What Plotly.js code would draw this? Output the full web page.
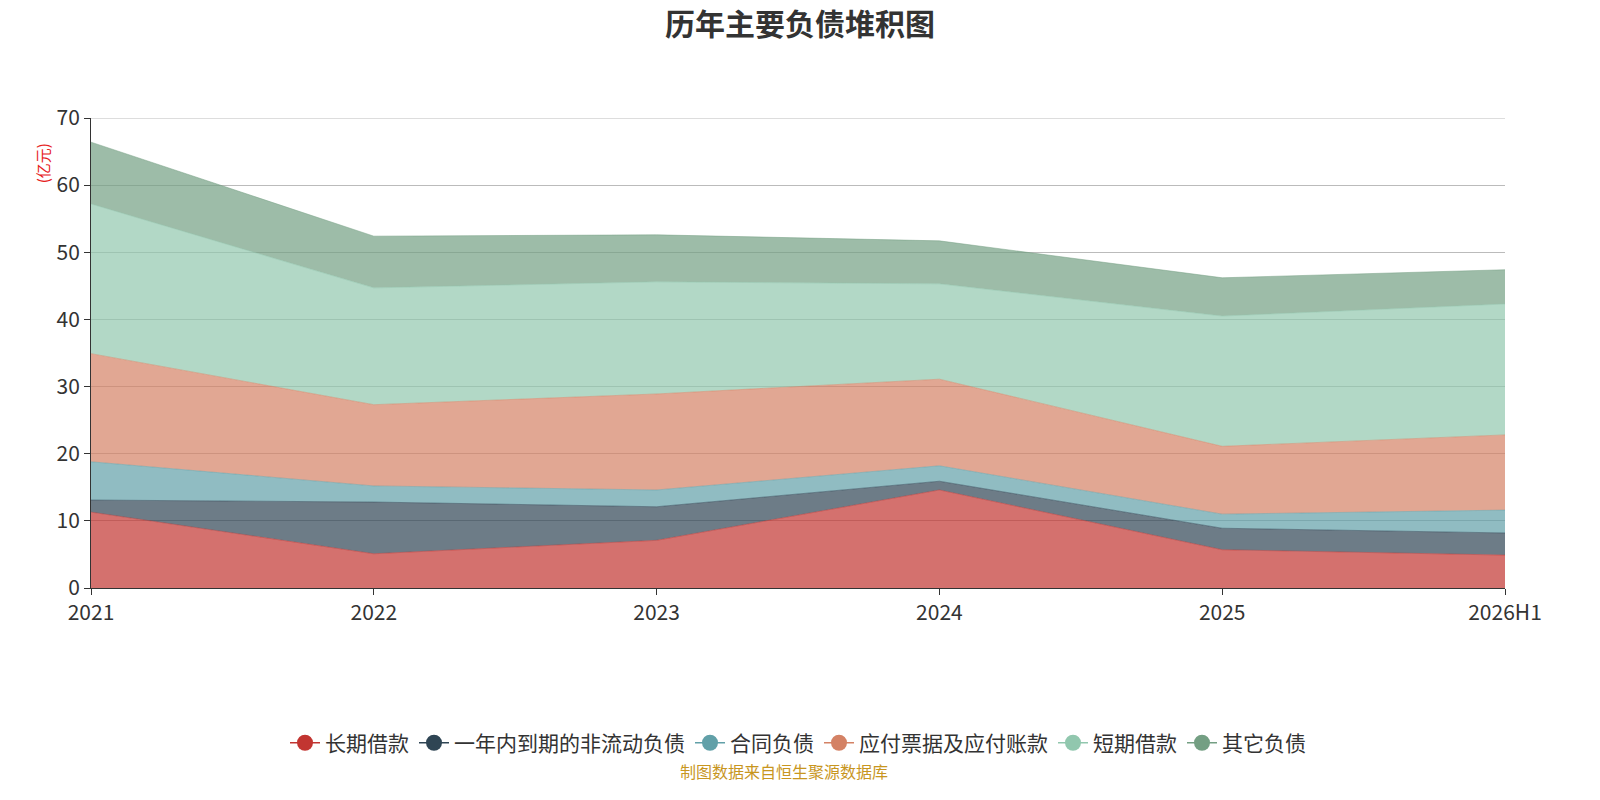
<!DOCTYPE html>
<html><head><meta charset="utf-8">
<script src="https://cdn.plot.ly/plotly-3.0.1.min.js"></script>
<style>body{margin:0}#chart{width:1600px;height:800px}</style>
</head><body><div id="chart"></div>
<script>
const years = ["2021", "2022", "2023", "2024", "2025", "2026H1"];
const longLoan = [11.3, 5.1, 7.1, 14.6, 5.7, 4.9];
const currentNonCurrent = [1.8, 7.7, 5.0, 1.3, 3.2, 3.3];
const contractLiab = [5.7, 2.4, 2.5, 2.3, 2.1, 3.4];
const payables = [16.1, 12.1, 14.3, 12.9, 10.1, 11.2];
const shortLoan = [22.3, 17.4, 16.7, 14.2, 19.4, 19.5];
const otherLiab = [9.2, 7.7, 7.0, 6.4, 5.7, 5.1];

const names = ["长期借款", "一年内到期的非流动负债", "合同负债", "应付票据及应付账款", "短期借款", "其它负债"];
const series = [longLoan, currentNonCurrent, contractLiab, payables, shortLoan, otherLiab];
const colors = ["#c23531", "#2f4554", "#61a0a8", "#d48265", "#91c7ae", "#749f83"];
const xs = years.map((y, i) => i);

function hexA(h, a) {
  const n = parseInt(h.slice(1), 16);
  return `rgba(${n >> 16},${(n >> 8) & 255},${n & 255},${a})`;
}

const data = [];
series.forEach((vals, i) => {
  data.push({
    x: xs, y: vals, type: "scatter", mode: "lines", stackgroup: "one",
    name: names[i], showlegend: false, hoverinfo: "y+name",
    line: { width: 0.5, color: colors[i] }, fillcolor: hexA(colors[i], 0.7)
  });
});
// legend entries
names.forEach((n, i) => {
  data.push({
    x: [null], y: [null], type: "scatter", mode: "lines+markers", name: n,
    line: { color: colors[i], width: 1.5 }, marker: { color: colors[i], size: 22 }
  });
});

Plotly.newPlot("chart", data, {
  width: 1600, height: 800,
  margin: { l: 91, r: 95, t: 118, b: 212 },
  paper_bgcolor: "#fff", plot_bgcolor: "#fff",
  font: { family: "Noto Sans CJK SC, sans-serif", color: "#333" },
  title: { text: "<b>历年主要负债堆积图</b>", x: 0.5, y: 0.97, yanchor: "middle", font: { size: 30, color: "#333" } },
  xaxis: {
    range: [0, 5], tickvals: xs, ticktext: years, showgrid: false,
    showline: true, linecolor: "#333", ticks: "outside", ticklen: 6, tickcolor: "#333",
    tickfont: { size: 21, color: "#333" }, zeroline: false
  },
  yaxis: {
    range: [0, 70], dtick: 10, showgrid: true, gridcolor: "#bbb",
    showline: true, linecolor: "#333", ticks: "outside", ticklen: 6, tickcolor: "#333",
    tickfont: { size: 21, color: "#333" }, zeroline: false
  },
  shapes: [
    { type: "line", xref: "paper", yref: "y", x0: 0, x1: 1, y0: 70, y1: 70, line: { color: "#bbb", width: 1 } }
  ],
  legend: {
    orientation: "h", x: 0.5, xanchor: "center", y: -0.33, yanchor: "middle", traceorder: "normal",
    font: { size: 21, color: "#333" }
  },
  annotations: [
    { text: "(亿元)", xref: "paper", yref: "paper", x: -0.043, y: 0.95, showarrow: false,
      textangle: -90, font: { size: 15, color: "#e62020" } },
    { text: "制图数据来自恒生聚源数据库", xref: "paper", yref: "paper", x: 0.49, y: -0.42,
      showarrow: false, font: { size: 16, color: "#c8961e" } }
  ]
}, { displayModeBar: false });
</script>
</body></html>
